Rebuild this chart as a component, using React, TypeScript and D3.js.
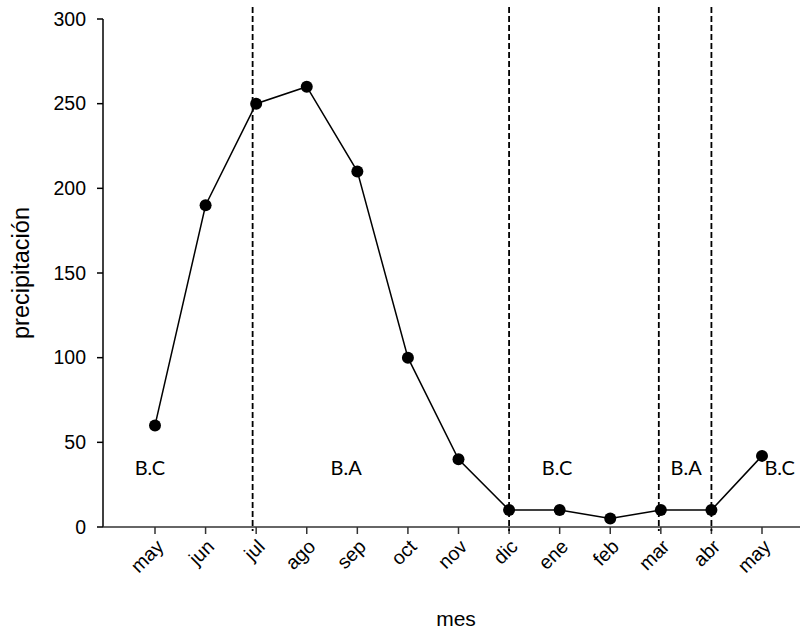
import React, { Component } from 'react';
import * as d3 from 'd3';

const meses = ['may', 'jun', 'jul', 'ago', 'sep', 'oct', 'nov', 'dic', 'ene', 'feb', 'mar', 'abr', 'may'];
const precipitacion = [60, 190, 250, 260, 210, 100, 40, 10, 10, 5, 10, 10, 42];
const yTicks = [0, 50, 100, 150, 200, 250, 300];
// dashed separators, in month-index units
const cortes = [1.93, 7, 9.96, 11];
const etiquetas = ['B.C', 'B.A', 'B.C', 'B.A', 'B.C'];
const etiquetaPos = [-0.1, 3.78, 7.95, 10.5, 12.35];
const etiquetaValor = [31, 31, 31, 31, 31];

class Chart extends Component<any> {
  node: any;

  componentDidMount() {
    document.body.style.margin = '0';
    const svg = d3.select(this.node).append('svg')
      .attr('width', 802).attr('height', 632)
      .style('display', 'block')
      .style('background', '#fff');

    const x = d3.scaleLinear().domain([0, meses.length - 1]).range([155, 762]);
    const y = d3.scaleLinear().domain([0, 300]).range([527, 19]);
    const axisFont = 'Liberation Sans, Arial, sans-serif';

    // y axis
    const yAxis = svg.append('g').attr('transform', 'translate(103,0)');
    yAxis.append('line').attr('y1', y(0)).attr('y2', y(300)).attr('stroke', '#000').attr('stroke-width', 1.5);
    yTicks.forEach(function (t) {
      yAxis.append('line').attr('x1', -6).attr('x2', 0).attr('y1', y(t)).attr('y2', y(t))
        .attr('stroke', '#000').attr('stroke-width', 1.5);
      yAxis.append('text').attr('x', -17).attr('y', y(t)).attr('dy', '0.35em')
        .attr('text-anchor', 'end').attr('font-family', axisFont).attr('font-size', 19.5)
        .text(t);
    });

    // x axis
    const xAxis = svg.append('g').attr('transform', `translate(0,${y(0)})`);
    xAxis.append('line').attr('x1', 103).attr('x2', 800).attr('stroke', '#333').attr('stroke-width', 1.5);
    meses.forEach(function (m, i) {
      xAxis.append('line').attr('x1', x(i)).attr('x2', x(i)).attr('y1', 0).attr('y2', 7)
        .attr('stroke', '#333').attr('stroke-width', 1.5);
      xAxis.append('text')
        .attr('transform', `translate(${x(i) + 5},${16}) rotate(-45)`)
        .attr('text-anchor', 'end').attr('dy', '0.35em')
        .attr('font-family', axisFont).attr('font-size', 19.5)
        .text(m);
    });

    // dashed separators
    svg.selectAll('line.corte').data(cortes).enter().append('line')
      .attr('class', 'corte')
      .attr('x1', function (d) { return x(d); })
      .attr('x2', function (d) { return x(d); })
      .attr('y1', 7).attr('y2', y(0) + 4)
      .attr('stroke', '#000').attr('stroke-width', 1.8)
      .attr('stroke-dasharray', '6,3');

    // line + points
    const line = d3.line<number>()
      .x(function (d, i) { return x(i); })
      .y(function (d) { return y(d); });
    svg.append('path').datum(precipitacion)
      .attr('d', line).attr('fill', 'none').attr('stroke', '#000').attr('stroke-width', 1.5);
    svg.selectAll('circle').data(precipitacion).enter().append('circle')
      .attr('cx', function (d, i) { return x(i); })
      .attr('cy', function (d) { return y(d); })
      .attr('r', 6).attr('fill', '#000');

    // period labels
    etiquetas.forEach(function (e, i) {
      svg.append('text')
        .attr('x', x(etiquetaPos[i])).attr('y', y(etiquetaValor[i]))
        .attr('text-anchor', 'middle')
        .attr('font-family', 'Lato, Calibri, sans-serif').attr('font-size', 20)
        .text(e);
    });

    // axis titles
    svg.append('text')
      .attr('transform', `translate(29,${(y(0) + y(300)) / 2}) rotate(-90)`)
      .attr('text-anchor', 'middle')
      .attr('font-family', axisFont).attr('font-size', 23.5)
      .text('precipitación');
    svg.append('text')
      .attr('x', 456).attr('y', 626)
      .attr('text-anchor', 'middle')
      .attr('font-family', axisFont).attr('font-size', 21)
      .text('mes');
  }

  render() {
    return <div ref={node => this.node = node}></div>;
  }
}

export default function App() {
  return <Chart />;
}
